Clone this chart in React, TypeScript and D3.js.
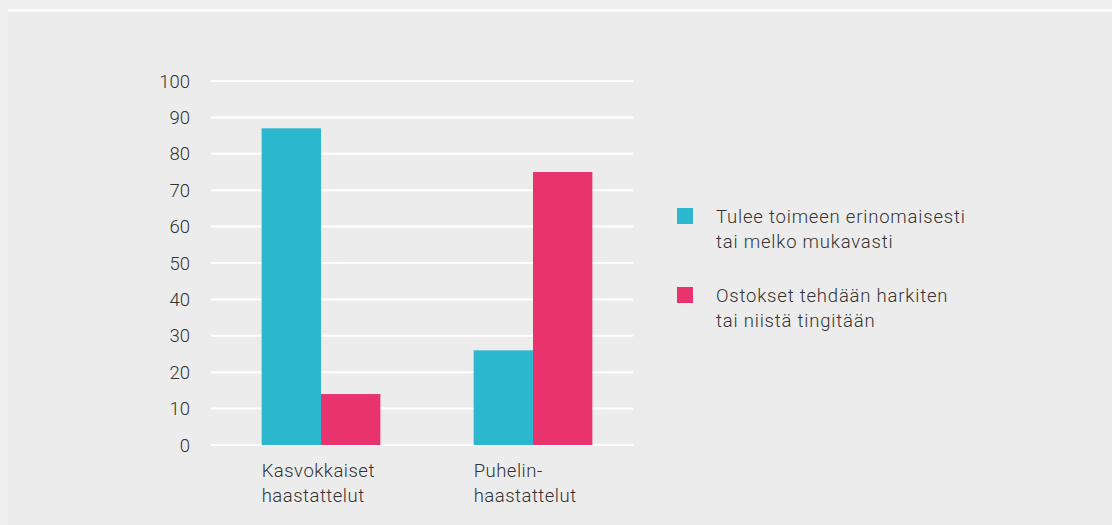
import React from "react";
import * as d3 from "d3";

const categories = [["Kasvokkaiset", "haastattelut"], ["Puhelin-", "haastattelut"]];
const seriesNames = [
  ["Tulee toimeen erinomaisesti", "tai melko mukavasti"],
  ["Ostokset tehdään harkiten", "tai niistä tingitään"],
];
const colors = ["#2bb8cf", "#e8336e"];
// values[series][category]
const values = [
  [87, 26],
  [14, 75],
];
const yTicks = [0, 10, 20, 30, 40, 50, 60, 70, 80, 90, 100];

const W = 1112;
const H = 525;
const FONT = "Roboto, 'DejaVu Sans', sans-serif";

export default function App() {
  const y = d3.scaleLinear().domain([0, 100]).range([445, 81]);
  const x0 = d3
    .scaleBand<number>()
    .domain(categories.map((_, i) => i))
    .range([215, 639])
    .paddingInner(0.44)
    .paddingOuter(0.22);
  const x1 = d3
    .scaleBand<number>()
    .domain(seriesNames.map((_, i) => i))
    .range([0, x0.bandwidth()]);

  const gridX0 = 211;
  const gridX1 = 633;

  return (
    <svg
      width={W}
      height={H}
      style={{ position: "absolute", left: 0, top: 0, fontFamily: FONT }}
    >
      <rect x={0} y={0} width={W} height={H} fill="#eeeeee" />
      <rect x={8} y={11} width={W - 8} height={H - 11} fill="#ececec" />
      <line x1={8} x2={W} y1={10.5} y2={10.5} stroke="#ffffff" strokeWidth={2} />

      {/* grid + y labels */}
      {yTicks.map((t) => (
        <g key={t}>
          <line x1={gridX0} x2={gridX1} y1={y(t)} y2={y(t)} stroke="#ffffff" strokeWidth={2} />
          <text
            x={190}
            y={y(t)}
            dy="0.36em"
            textAnchor="end"
            fontSize={18.5}
            fontWeight={300}
            fill="#333333"
          >
            {t}
          </text>
        </g>
      ))}

      {/* bars */}
      {categories.map((cat, ci) => (
        <g key={ci} transform={`translate(${x0(ci)},0)`}>
          {values.map((vals, si) => (
            <rect
              key={si}
              x={x1(si)}
              y={y(vals[ci])}
              width={x1.bandwidth()}
              height={y(0) - y(vals[ci])}
              fill={colors[si]}
            />
          ))}
          <text
            x={0}
            y={477}
            fontSize={18.5}
            fontWeight={300}
            letterSpacing={0.5}
            fill="#333333"
          >
            {cat.map((line, li) => (
              <tspan key={li} x={0} dy={li === 0 ? 0 : 25}>
                {line}
              </tspan>
            ))}
          </text>
        </g>
      ))}

      {/* legend */}
      {seriesNames.map((name, si) => (
        <g key={si} transform={`translate(677,${208 + si * 79})`}>
          <rect x={0} y={0} width={16} height={16} fill={colors[si]} />
          <text
            x={39}
            y={15}
            fontSize={18.5}
            fontWeight={300}
            letterSpacing={0.8}
            fill="#333333"
          >
            {name.map((line, li) => (
              <tspan key={li} x={39} dy={li === 0 ? 0 : 25}>
                {line}
              </tspan>
            ))}
          </text>
        </g>
      ))}
    </svg>
  );
}
